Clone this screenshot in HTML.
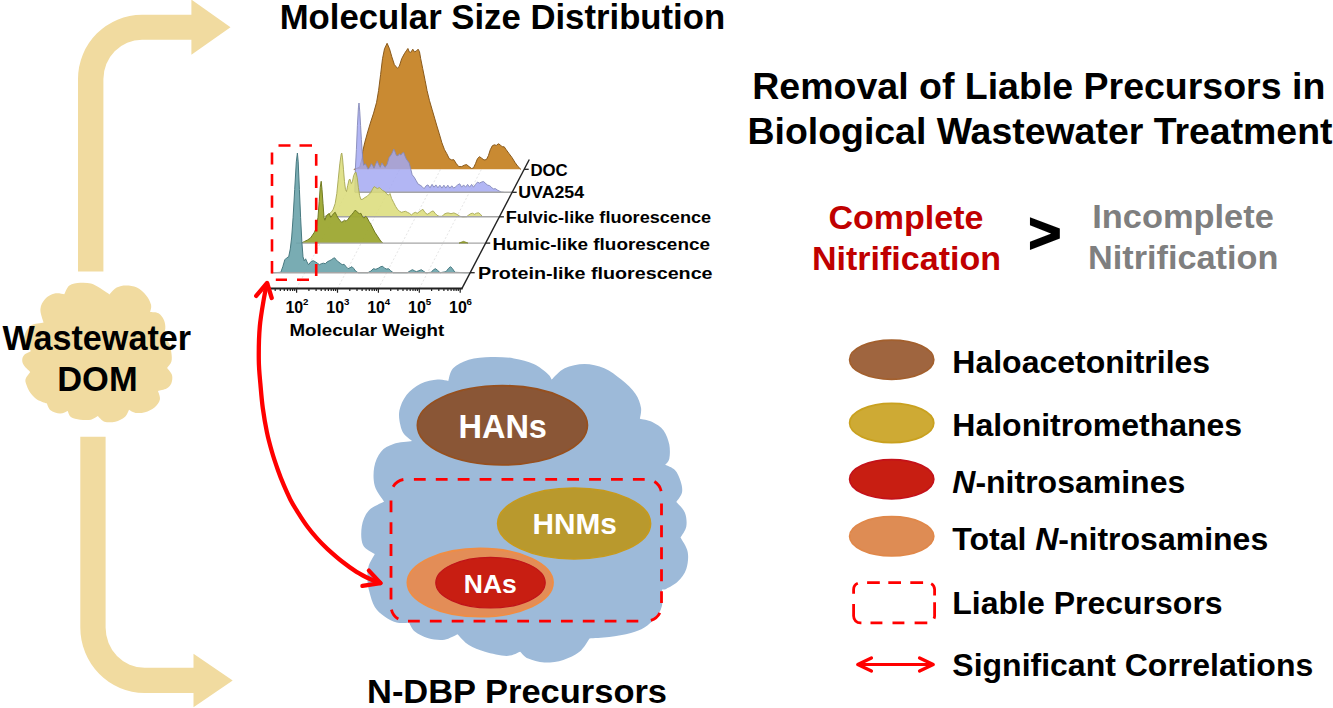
<!DOCTYPE html>
<html lang="en"><head><meta charset="utf-8"><title>Graphical abstract</title>
<style>
html,body{margin:0;padding:0;background:#fff;}
body{width:1333px;height:708px;overflow:hidden;}
svg{display:block;}
text{font-family:"Liberation Sans",sans-serif;font-weight:bold;fill:#000;}
.w{fill:#fff;}
</style></head><body>
<svg width="1333" height="708" viewBox="0 0 1333 708">
<rect width="1333" height="708" fill="#fff"/>
<g id="left">
<path d="M78.0,271.4 L78.0,79.0 A64.0,64.2 0 0 1 142.0,14.8 L191.4,14.8 L191.4,-0.40000000000000213 L230.5,27.2 L191.4,54.8 L191.4,39.8 L142.0,39.8 A38.599999999999994,39.2 0 0 0 103.4,79.0 L103.4,271.4Z" fill="#f1dba0"/>
<path d="M80.3,436.8 L80.3,627.5 A64.2,65.5 0 0 0 144.5,693.0 L193.5,693.0 L193.5,707.3 L232.7,680.5 L193.5,653.7 L193.5,667.7 L144.5,667.7 A38.900000000000006,40.200000000000045 0 0 1 105.6,627.5 L105.6,436.8Z" fill="#f1dba0"/>
<path d="M43.6,322.5 C43.0,320.3 40.1,313.1 40.4,309.2 C40.7,305.3 42.7,301.6 45.1,299.0 C47.5,296.4 51.4,294.4 54.6,293.6 C57.8,292.8 62.7,294.1 64.3,294.2 C65.2,292.8 66.8,287.4 69.4,285.5 C72.0,283.6 76.6,283.1 80.2,282.8 C83.8,282.5 87.8,282.7 91.0,283.5 C94.2,284.3 96.0,285.8 99.1,287.6 C102.2,289.4 107.8,293.3 109.5,294.5 C110.7,293.3 113.9,289.1 116.7,287.6 C119.5,286.1 122.7,285.5 126.1,285.5 C129.5,285.5 133.5,285.9 136.9,287.6 C140.3,289.3 144.0,292.8 146.4,295.7 C148.8,298.6 150.5,302.4 151.1,305.1 C151.7,307.8 150.3,310.8 150.1,311.9 C151.5,312.1 156.2,311.9 158.5,313.2 C160.8,314.5 162.8,317.4 163.9,320.0 C165.0,322.6 165.6,325.9 165.3,328.7 C165.0,331.5 162.5,335.3 161.9,336.7 C163.1,337.7 167.4,340.3 169.0,343.0 C170.6,345.7 171.0,349.9 171.4,353.0 C171.8,356.1 172.1,359.1 171.4,361.6 C170.7,364.1 167.8,367.0 167.1,368.1 C167.9,369.2 171.3,372.6 172.0,375.1 C172.7,377.6 172.3,380.9 171.4,383.2 C170.5,385.4 168.8,387.3 166.6,388.6 C164.4,389.9 159.4,390.5 158.0,390.9 C158.3,392.3 160.5,396.6 159.9,399.4 C159.3,402.2 157.0,405.4 154.5,407.5 C152.0,409.6 148.2,411.3 145.0,412.2 C141.8,413.1 138.3,413.3 135.6,412.9 C132.9,412.5 130.2,410.2 129.1,409.7 C128.4,410.9 127.1,415.0 124.8,417.0 C122.5,419.0 118.7,420.9 115.3,421.7 C111.9,422.5 107.4,422.6 104.5,421.7 C101.6,420.8 98.9,417.0 97.8,416.1 C96.7,416.7 93.9,419.1 91.0,419.7 C88.1,420.3 83.6,420.1 80.2,419.7 C76.8,419.2 72.9,418.5 70.8,417.0 C68.7,415.5 68.3,412.0 67.8,411.0 C66.5,411.4 62.9,413.7 60.0,413.6 C57.1,413.5 52.7,411.9 50.5,410.2 C48.3,408.5 47.4,404.5 46.7,403.3 C45.1,402.7 39.7,401.2 37.0,399.4 C34.3,397.6 32.0,394.9 30.3,392.7 C28.6,390.4 27.7,388.1 26.9,385.9 C26.1,383.6 24.9,381.5 25.5,379.2 C26.1,376.9 29.5,373.1 30.3,371.9 C29.3,370.9 25.6,367.6 24.2,365.7 C22.8,363.8 22.2,362.1 22.2,360.3 C22.2,358.5 22.7,356.4 24.2,354.9 C25.7,353.4 29.9,351.7 31.1,351.0 C30.0,349.7 25.5,345.8 24.5,343.0 C23.5,340.2 23.9,336.9 25.0,334.0 C26.1,331.1 27.9,327.4 31.0,325.5 C34.1,323.6 41.5,323.0 43.6,322.5Z" fill="#f1dba0"/>
<text x="96.8" y="349.5" font-size="34.2" text-anchor="middle" textLength="188.5" lengthAdjust="spacingAndGlyphs">Wastewater</text>
<text x="97.4" y="390.5" font-size="34.2" text-anchor="middle" textLength="80.4" lengthAdjust="spacingAndGlyphs">DOM</text>
</g>
<g id="chart">
<path d="M296.6,288.5 L363.6,160 M337.5,288.5 L404.5,160 M378.4,288.5 L445.4,160 M419.3,288.5 L486.3,160" fill="none" stroke="#e6e6e6" stroke-width="1" stroke-dasharray="2 2"/>
<path d="M353.8,169.5 L359.8,167.1 L362.2,157.7 L362.7,151.7 L364.7,142.8 L367.7,131.9 L370.7,122.0 L373.6,113.1 L376.6,102.3 L378.6,90.4 L380.6,74.6 L382.5,58.7 L384.5,48.8 L387.1,43.3 L389.5,48.8 L391.8,56.8 L394.4,64.7 L397.4,68.2 L399.3,66.3 L401.7,58.7 L404.3,53.8 L406.3,50.8 L407.9,48.5 L409.2,51.8 L410.8,52.4 L412.8,49.2 L414.4,51.8 L416.2,51.2 L418.1,49.2 L419.5,51.8 L420.7,58.7 L422.7,68.6 L425.1,80.5 L427.0,90.4 L429.4,100.3 L432.0,109.2 L434.6,118.1 L436.9,126.0 L439.3,133.9 L441.9,142.8 L444.5,149.7 L446.8,153.7 L449.2,158.6 L451.8,160.0 L453.7,159.6 L456.3,163.6 L458.7,166.6 L461.7,166.6 L464.2,165.2 L466.6,164.6 L469.0,166.6 L471.6,168.5 L473.5,167.9 L475.5,163.6 L477.5,158.6 L479.5,156.7 L481.4,158.0 L484.0,160.0 L486.4,159.6 L488.4,155.7 L490.3,149.7 L492.3,145.8 L494.3,144.8 L496.3,145.4 L498.3,143.8 L500.2,144.8 L502.2,146.8 L504.2,146.8 L506.2,149.7 L509.1,153.7 L512.1,157.7 L515.1,162.6 L518.0,166.6 L521.0,169.5 L521.0,169.3 L353.8,169.3Z" fill="#c98a32" fill-opacity="1"/><path d="M353.8,169.5 L359.8,167.1 L362.2,157.7 L362.7,151.7 L364.7,142.8 L367.7,131.9 L370.7,122.0 L373.6,113.1 L376.6,102.3 L378.6,90.4 L380.6,74.6 L382.5,58.7 L384.5,48.8 L387.1,43.3 L389.5,48.8 L391.8,56.8 L394.4,64.7 L397.4,68.2 L399.3,66.3 L401.7,58.7 L404.3,53.8 L406.3,50.8 L407.9,48.5 L409.2,51.8 L410.8,52.4 L412.8,49.2 L414.4,51.8 L416.2,51.2 L418.1,49.2 L419.5,51.8 L420.7,58.7 L422.7,68.6 L425.1,80.5 L427.0,90.4 L429.4,100.3 L432.0,109.2 L434.6,118.1 L436.9,126.0 L439.3,133.9 L441.9,142.8 L444.5,149.7 L446.8,153.7 L449.2,158.6 L451.8,160.0 L453.7,159.6 L456.3,163.6 L458.7,166.6 L461.7,166.6 L464.2,165.2 L466.6,164.6 L469.0,166.6 L471.6,168.5 L473.5,167.9 L475.5,163.6 L477.5,158.6 L479.5,156.7 L481.4,158.0 L484.0,160.0 L486.4,159.6 L488.4,155.7 L490.3,149.7 L492.3,145.8 L494.3,144.8 L496.3,145.4 L498.3,143.8 L500.2,144.8 L502.2,146.8 L504.2,146.8 L506.2,149.7 L509.1,153.7 L512.1,157.7 L515.1,162.6 L518.0,166.6 L521.0,169.5" fill="none" stroke="#8a5a1c" stroke-width="1" stroke-linejoin="round"/>
<path d="M354.8,192.4 L355.4,168.2 L356.4,149.5 L357.4,125.7 L358.4,107.9 L359.0,103.0 L359.8,111.9 L360.6,125.7 L361.4,139.6 L362.2,151.4 L362.9,160.3 L363.7,165.3 L365.3,163.7 L366.7,166.3 L368.1,169.2 L369.7,167.3 L371.3,163.7 L372.6,165.3 L374.0,168.2 L375.6,164.3 L377.2,160.9 L378.6,164.3 L380.2,167.3 L381.9,162.9 L383.5,165.3 L385.1,167.3 L387.1,164.3 L389.1,157.4 L391.0,155.0 L392.4,152.4 L393.8,149.1 L395.0,151.8 L396.4,155.4 L398.0,155.8 L399.3,153.8 L400.9,155.0 L402.3,153.0 L403.7,152.4 L404.9,155.8 L406.3,159.0 L407.7,160.9 L409.2,162.9 L410.8,169.2 L412.2,174.8 L414.2,177.2 L416.2,180.7 L418.1,184.1 L420.1,185.1 L422.1,186.6 L424.1,188.7 L426.1,185.8 L428.0,184.9 L430.0,187.8 L432.0,184.4 L434.0,187.2 L435.9,184.9 L437.9,187.8 L439.9,185.2 L441.9,188.1 L443.9,185.2 L445.8,188.1 L447.8,185.2 L449.8,188.1 L451.8,185.8 L453.7,188.1 L455.7,186.7 L457.7,184.9 L459.7,183.8 L461.7,187.2 L463.6,184.9 L465.6,187.2 L467.6,184.4 L469.6,187.2 L471.6,184.4 L473.5,187.2 L475.5,184.4 L477.5,182.1 L479.5,183.1 L481.4,182.1 L483.4,181.5 L485.4,183.1 L487.4,185.1 L489.4,185.5 L491.3,187.0 L493.3,189.0 L495.3,188.6 L497.3,190.0 L499.2,191.0 L501.2,192.0 L504.2,192.4 L504.2,192.3 L354.8,192.3Z" fill="#a3a8f2" fill-opacity="0.84"/><path d="M354.8,192.4 L355.4,168.2 L356.4,149.5 L357.4,125.7 L358.4,107.9 L359.0,103.0 L359.8,111.9 L360.6,125.7 L361.4,139.6 L362.2,151.4 L362.9,160.3 L363.7,165.3 L365.3,163.7 L366.7,166.3 L368.1,169.2 L369.7,167.3 L371.3,163.7 L372.6,165.3 L374.0,168.2 L375.6,164.3 L377.2,160.9 L378.6,164.3 L380.2,167.3 L381.9,162.9 L383.5,165.3 L385.1,167.3 L387.1,164.3 L389.1,157.4 L391.0,155.0 L392.4,152.4 L393.8,149.1 L395.0,151.8 L396.4,155.4 L398.0,155.8 L399.3,153.8 L400.9,155.0 L402.3,153.0 L403.7,152.4 L404.9,155.8 L406.3,159.0 L407.7,160.9 L409.2,162.9 L410.8,169.2 L412.2,174.8 L414.2,177.2 L416.2,180.7 L418.1,184.1 L420.1,185.1 L422.1,186.6 L424.1,188.7 L426.1,185.8 L428.0,184.9 L430.0,187.8 L432.0,184.4 L434.0,187.2 L435.9,184.9 L437.9,187.8 L439.9,185.2 L441.9,188.1 L443.9,185.2 L445.8,188.1 L447.8,185.2 L449.8,188.1 L451.8,185.8 L453.7,188.1 L455.7,186.7 L457.7,184.9 L459.7,183.8 L461.7,187.2 L463.6,184.9 L465.6,187.2 L467.6,184.4 L469.6,187.2 L471.6,184.4 L473.5,187.2 L475.5,184.4 L477.5,182.1 L479.5,183.1 L481.4,182.1 L483.4,181.5 L485.4,183.1 L487.4,185.1 L489.4,185.5 L491.3,187.0 L493.3,189.0 L495.3,188.6 L497.3,190.0 L499.2,191.0 L501.2,192.0 L504.2,192.4" fill="none" stroke="#8589b8" stroke-width="0.9" stroke-linejoin="round"/>
<path d="M355.0,192.3 L512.2,192.3" stroke="#a6a6a6" stroke-width="1.4" fill="none"/>
<path d="M324.3,216.9 L328.3,214.3 L331.3,212.3 L333.2,209.3 L335.2,203.4 L336.8,193.5 L338.2,179.7 L339.8,163.8 L341.2,154.0 L341.8,153.0 L342.5,157.9 L343.5,169.8 L344.5,181.7 L345.5,189.6 L346.5,191.5 L347.7,185.6 L349.1,179.7 L350.1,179.3 L351.3,183.6 L352.4,181.7 L353.6,175.7 L355.0,172.7 L356.0,172.2 L357.2,177.7 L358.4,187.6 L359.6,195.5 L360.9,199.5 L362.9,199.1 L364.9,197.5 L366.9,196.5 L368.9,194.5 L370.8,192.5 L372.8,188.6 L374.2,186.6 L375.8,187.6 L377.4,188.6 L379.3,187.6 L380.7,188.6 L382.7,190.6 L384.7,191.5 L386.7,193.9 L388.6,195.1 L390.0,193.5 L391.6,198.5 L393.6,202.4 L395.6,206.4 L397.5,209.3 L399.5,211.3 L401.5,212.3 L403.5,211.7 L405.5,211.3 L407.4,212.3 L409.4,213.3 L411.4,214.9 L413.4,213.3 L415.3,212.3 L417.3,213.3 L419.3,211.7 L421.3,210.3 L422.9,209.3 L424.8,212.3 L427.2,214.3 L429.2,213.3 L431.2,211.7 L433.2,210.9 L435.1,213.3 L437.1,215.3 L439.1,216.3 L442.1,216.3 L444.0,214.3 L446.0,213.3 L448.0,212.9 L451.0,213.7 L453.9,212.9 L456.9,214.3 L459.9,216.3 L462.8,216.9 L466.6,216.7 L468.6,215.1 L470.6,213.7 L472.5,213.2 L474.5,214.3 L476.5,213.2 L478.5,212.8 L480.5,214.3 L482.4,216.7 L482.4,216.8 L324.3,216.8Z" fill="#dbdc78" fill-opacity="0.85"/><path d="M324.3,216.9 L328.3,214.3 L331.3,212.3 L333.2,209.3 L335.2,203.4 L336.8,193.5 L338.2,179.7 L339.8,163.8 L341.2,154.0 L341.8,153.0 L342.5,157.9 L343.5,169.8 L344.5,181.7 L345.5,189.6 L346.5,191.5 L347.7,185.6 L349.1,179.7 L350.1,179.3 L351.3,183.6 L352.4,181.7 L353.6,175.7 L355.0,172.7 L356.0,172.2 L357.2,177.7 L358.4,187.6 L359.6,195.5 L360.9,199.5 L362.9,199.1 L364.9,197.5 L366.9,196.5 L368.9,194.5 L370.8,192.5 L372.8,188.6 L374.2,186.6 L375.8,187.6 L377.4,188.6 L379.3,187.6 L380.7,188.6 L382.7,190.6 L384.7,191.5 L386.7,193.9 L388.6,195.1 L390.0,193.5 L391.6,198.5 L393.6,202.4 L395.6,206.4 L397.5,209.3 L399.5,211.3 L401.5,212.3 L403.5,211.7 L405.5,211.3 L407.4,212.3 L409.4,213.3 L411.4,214.9 L413.4,213.3 L415.3,212.3 L417.3,213.3 L419.3,211.7 L421.3,210.3 L422.9,209.3 L424.8,212.3 L427.2,214.3 L429.2,213.3 L431.2,211.7 L433.2,210.9 L435.1,213.3 L437.1,215.3 L439.1,216.3 L442.1,216.3 L444.0,214.3 L446.0,213.3 L448.0,212.9 L451.0,213.7 L453.9,212.9 L456.9,214.3 L459.9,216.3 L462.8,216.9 L466.6,216.7 L468.6,215.1 L470.6,213.7 L472.5,213.2 L474.5,214.3 L476.5,213.2 L478.5,212.8 L480.5,214.3 L482.4,216.7" fill="none" stroke="#a6a754" stroke-width="0.9" stroke-linejoin="round"/>
<path d="M325.0,216.8 L499.4,216.8" stroke="#a6a6a6" stroke-width="1.4" fill="none"/>
<path d="M301.6,243.0 L304.6,241.4 L307.5,240.0 L310.5,238.0 L312.5,235.1 L314.5,232.1 L316.4,227.2 L318.0,217.3 L319.2,201.4 L320.2,187.6 L321.2,181.3 L322.0,189.6 L323.0,203.4 L324.0,217.3 L324.9,220.2 L326.3,216.3 L327.9,214.3 L329.3,213.7 L330.7,217.3 L332.3,215.3 L333.8,213.3 L335.2,212.3 L336.6,215.3 L338.2,218.2 L339.8,220.2 L341.4,222.2 L342.9,221.6 L344.5,220.2 L346.1,221.2 L348.1,219.2 L350.1,216.3 L352.0,214.3 L353.6,212.3 L355.0,210.3 L356.4,210.9 L358.0,212.9 L359.6,213.7 L360.9,213.3 L362.3,216.3 L363.9,218.2 L365.5,216.3 L366.9,217.3 L368.9,221.2 L370.8,224.2 L372.8,228.1 L374.8,232.1 L376.8,235.1 L378.7,238.0 L380.7,241.0 L382.7,243.0 L382.7,243.1 L301.6,243.1Z" fill="#9da832" fill-opacity="0.95"/><path d="M301.6,243.0 L304.6,241.4 L307.5,240.0 L310.5,238.0 L312.5,235.1 L314.5,232.1 L316.4,227.2 L318.0,217.3 L319.2,201.4 L320.2,187.6 L321.2,181.3 L322.0,189.6 L323.0,203.4 L324.0,217.3 L324.9,220.2 L326.3,216.3 L327.9,214.3 L329.3,213.7 L330.7,217.3 L332.3,215.3 L333.8,213.3 L335.2,212.3 L336.6,215.3 L338.2,218.2 L339.8,220.2 L341.4,222.2 L342.9,221.6 L344.5,220.2 L346.1,221.2 L348.1,219.2 L350.1,216.3 L352.0,214.3 L353.6,212.3 L355.0,210.3 L356.4,210.9 L358.0,212.9 L359.6,213.7 L360.9,213.3 L362.3,216.3 L363.9,218.2 L365.5,216.3 L366.9,217.3 L368.9,221.2 L370.8,224.2 L372.8,228.1 L374.8,232.1 L376.8,235.1 L378.7,238.0 L380.7,241.0 L382.7,243.0" fill="none" stroke="#717b22" stroke-width="1" stroke-linejoin="round"/>
<path d="M296.0,243.1 L485.7,243.1" stroke="#a6a6a6" stroke-width="1.4" fill="none"/>
<path d="M459,243.1 L461.5,242 L463.5,241.3 L465.5,242 L468,243.1Z" fill="#9da832" stroke="#717b22" stroke-width="0.6"/>
<path d="M273.9,272.7 L280.8,272.3 L282.8,266.7 L284.8,259.8 L286.8,257.8 L288.7,256.8 L290.3,248.9 L291.7,237.0 L293.1,217.3 L294.7,189.6 L296.3,161.9 L297.4,153.0 L298.2,161.9 L299.4,189.6 L300.6,217.3 L301.8,241.0 L303.0,256.8 L304.2,260.8 L305.6,258.8 L306.9,261.8 L308.5,264.7 L310.1,262.8 L311.5,261.2 L313.5,260.8 L315.4,261.8 L317.4,263.2 L319.4,264.7 L321.4,263.7 L323.4,263.2 L325.3,263.7 L327.3,261.8 L329.3,260.8 L331.3,259.8 L333.2,258.4 L334.6,257.8 L336.2,259.8 L338.2,261.8 L340.2,263.2 L342.2,264.7 L344.1,264.3 L346.1,266.7 L348.1,268.7 L350.1,267.7 L352.0,266.7 L353.6,268.3 L355.6,271.1 L358.0,272.7 L367.9,272.7 L370.8,271.1 L373.4,268.7 L375.8,269.3 L378.2,268.3 L380.7,266.7 L382.7,266.3 L384.7,268.3 L386.7,269.1 L388.6,268.7 L390.6,270.7 L393.2,272.7 L407.4,272.7 L410.4,270.7 L412.4,269.7 L414.4,270.7 L416.3,271.7 L418.9,270.7 L421.3,269.7 L423.3,271.1 L425.6,272.7 L431.2,272.3 L433.5,269.7 L435.5,268.7 L437.5,270.3 L440.1,272.7 L446.0,271.7 L448.6,268.3 L450.6,266.7 L452.5,268.7 L454.9,272.3 L465.0,272.7 L470.1,272.7 L470.1,272.7 L273.9,272.7Z" fill="#6aa3ab" fill-opacity="0.9"/><path d="M273.9,272.7 L280.8,272.3 L282.8,266.7 L284.8,259.8 L286.8,257.8 L288.7,256.8 L290.3,248.9 L291.7,237.0 L293.1,217.3 L294.7,189.6 L296.3,161.9 L297.4,153.0 L298.2,161.9 L299.4,189.6 L300.6,217.3 L301.8,241.0 L303.0,256.8 L304.2,260.8 L305.6,258.8 L306.9,261.8 L308.5,264.7 L310.1,262.8 L311.5,261.2 L313.5,260.8 L315.4,261.8 L317.4,263.2 L319.4,264.7 L321.4,263.7 L323.4,263.2 L325.3,263.7 L327.3,261.8 L329.3,260.8 L331.3,259.8 L333.2,258.4 L334.6,257.8 L336.2,259.8 L338.2,261.8 L340.2,263.2 L342.2,264.7 L344.1,264.3 L346.1,266.7 L348.1,268.7 L350.1,267.7 L352.0,266.7 L353.6,268.3 L355.6,271.1 L358.0,272.7 L367.9,272.7 L370.8,271.1 L373.4,268.7 L375.8,269.3 L378.2,268.3 L380.7,266.7 L382.7,266.3 L384.7,268.3 L386.7,269.1 L388.6,268.7 L390.6,270.7 L393.2,272.7 L407.4,272.7 L410.4,270.7 L412.4,269.7 L414.4,270.7 L416.3,271.7 L418.9,270.7 L421.3,269.7 L423.3,271.1 L425.6,272.7 L431.2,272.3 L433.5,269.7 L435.5,268.7 L437.5,270.3 L440.1,272.7 L446.0,271.7 L448.6,268.3 L450.6,266.7 L452.5,268.7 L454.9,272.3 L465.0,272.7 L470.1,272.7" fill="none" stroke="#477980" stroke-width="1" stroke-linejoin="round"/>
<path d="M271.5,272.7 L470.2,272.7" stroke="#a6a6a6" stroke-width="1.4" fill="none"/>
<path d="M270,288.5 L462.4,288.5" fill="none" stroke="#222" stroke-width="1.9"/>
<path d="M461.6,289.1 L529.3,159.5" fill="none" stroke="#222" stroke-width="1.4"/>
<path d="M296.6,288.5 v4.2 M308.9,288.5 v2.4 M316.1,288.5 v2.4 M321.2,288.5 v2.4 M325.2,288.5 v2.4 M328.4,288.5 v2.4 M331.2,288.5 v2.4 M333.5,288.5 v2.4 M335.6,288.5 v2.4 M337.5,288.5 v4.2 M349.8,288.5 v2.4 M357.0,288.5 v2.4 M362.1,288.5 v2.4 M366.1,288.5 v2.4 M369.3,288.5 v2.4 M372.1,288.5 v2.4 M374.4,288.5 v2.4 M376.5,288.5 v2.4 M378.4,288.5 v4.2 M390.7,288.5 v2.4 M397.9,288.5 v2.4 M403.0,288.5 v2.4 M407.0,288.5 v2.4 M410.2,288.5 v2.4 M413.0,288.5 v2.4 M415.3,288.5 v2.4 M417.4,288.5 v2.4 M419.3,288.5 v4.2 M431.6,288.5 v2.4 M438.8,288.5 v2.4 M443.9,288.5 v2.4 M447.9,288.5 v2.4 M451.1,288.5 v2.4 M453.9,288.5 v2.4 M456.2,288.5 v2.4 M458.3,288.5 v2.4 M460.2,288.5 v4.2 M275.2,288.5 v2.4 M280.3,288.5 v2.4 M284.3,288.5 v2.4 M287.5,288.5 v2.4 M290.3,288.5 v2.4 M292.6,288.5 v2.4 M294.7,288.5 v2.4 " stroke="#222" stroke-width="1.2" fill="none"/>
<path d="M524.2,169.3 L528.7,169.3" stroke="#222" stroke-width="1.3"/><text x="530.4" y="175.7" font-size="16.2" textLength="37.3" lengthAdjust="spacingAndGlyphs">DOC</text>
<path d="M512.2,192.3 L516.7,192.3" stroke="#222" stroke-width="1.3"/><text x="518.3" y="198.4" font-size="16.4" textLength="65.8" lengthAdjust="spacingAndGlyphs">UVA254</text>
<path d="M499.4,216.8 L503.9,216.8" stroke="#222" stroke-width="1.3"/><text x="505.7" y="223.2" font-size="16.7" textLength="205.5" lengthAdjust="spacingAndGlyphs">Fulvic-like fluorescence</text>
<path d="M485.7,243.1 L490.2,243.1" stroke="#222" stroke-width="1.3"/><text x="492.4" y="249.8" font-size="16.8" textLength="217.6" lengthAdjust="spacingAndGlyphs">Humic-like fluorescence</text>
<path d="M470.2,272.7 L474.7,272.7" stroke="#222" stroke-width="1.3"/><text x="478" y="278.9" font-size="17.2" textLength="234.6" lengthAdjust="spacingAndGlyphs">Protein-like fluorescence</text>
<text x="285.4" y="313" font-size="16">10</text><text x="303.0" y="304.9" font-size="9.7">2</text><text x="326.3" y="313" font-size="16">10</text><text x="343.9" y="304.9" font-size="9.7">3</text><text x="367.2" y="313" font-size="16">10</text><text x="384.8" y="304.9" font-size="9.7">4</text><text x="408.1" y="313" font-size="16">10</text><text x="425.7" y="304.9" font-size="9.7">5</text><text x="449.0" y="313" font-size="16">10</text><text x="466.6" y="304.9" font-size="9.7">6</text>
<text x="366.9" y="335.6" font-size="17.3" text-anchor="middle" textLength="154.8" lengthAdjust="spacingAndGlyphs">Molecular Weight</text>
<path d="M278.5,145.5 H290.5 M299.5,145.5 H312 M275.8,279.8 H287 M297,279.8 H309 M272,152.4 V164.5 M272,174 V186 M272,195.5 V207.8 M272,217.3 V229.4 M272,239.2 V251.4 M272,261 V273.5 M316.2,153.9 V165.8 M316.2,175.8 V187.9 M316.2,197.8 V210 M316.2,219.7 V231.6 M316.2,241.7 V253.7 M316.2,264 V276" fill="none" stroke="#ff0000" stroke-width="2.6"/>
<text x="502.4" y="28.5" font-size="34.3" text-anchor="middle" textLength="445.5" lengthAdjust="spacingAndGlyphs">Molecular Size Distribution</text>
<text x="517" y="703.3" font-size="34" text-anchor="middle" textLength="300" lengthAdjust="spacingAndGlyphs">N-DBP Precursors</text>
</g>
<g id="blue">
<path d="M412.1,441.1 C410.7,439.9 406.0,436.7 404.0,434.0 C402.0,431.3 401.1,428.7 400.3,424.8 C399.5,420.9 398.4,415.6 399.4,410.6 C400.4,405.7 403.0,399.6 406.5,395.1 C410.0,390.6 415.4,386.4 420.6,383.8 C425.8,381.2 433.0,380.1 437.6,379.6 C442.2,379.1 446.5,380.7 448.3,380.9 C449.1,378.8 449.7,371.8 453.1,368.3 C456.5,364.8 462.3,361.7 468.7,359.8 C475.1,357.9 483.8,357.2 491.3,357.0 C498.8,356.8 506.8,357.2 513.9,358.4 C521.0,359.6 528.1,361.4 533.7,364.0 C539.4,366.6 544.8,371.3 547.8,373.9 C550.8,376.5 551.1,378.6 551.7,379.6 C553.9,377.7 559.2,370.9 564.7,368.3 C570.2,365.7 577.9,364.0 584.5,364.0 C591.1,364.0 598.2,365.7 604.3,368.3 C610.4,370.9 616.1,375.4 621.3,379.6 C626.5,383.8 632.1,389.0 635.4,393.7 C638.7,398.4 640.3,403.6 641.0,407.8 C641.7,412.0 640.0,416.9 639.9,418.7 C641.9,419.2 648.3,419.9 652.3,421.9 C656.3,423.9 660.8,426.6 663.6,430.4 C666.4,434.2 668.3,439.8 669.3,444.5 C670.2,449.2 670.0,455.3 669.3,458.7 C668.6,462.1 665.8,463.8 665.1,464.8 C666.7,465.7 672.3,467.3 674.9,470.0 C677.5,472.7 679.4,477.5 680.6,481.3 C681.8,485.1 682.7,489.1 682.0,492.6 C681.3,496.1 677.3,500.5 676.3,502.1 C677.7,503.8 683.1,508.3 684.8,512.4 C686.5,516.5 687.0,522.3 686.3,526.5 C685.6,530.7 681.5,535.7 680.5,537.6 C681.7,540.0 686.7,546.7 687.7,551.9 C688.7,557.1 687.9,563.9 686.3,568.9 C684.6,573.9 681.1,578.3 677.8,581.6 C674.5,584.9 669.1,587.4 666.5,588.7 C663.9,590.0 662.7,589.3 662.0,589.5 C662.0,592.2 663.0,601.1 661.9,605.9 C660.8,610.7 658.1,614.5 655.2,618.1 C652.3,621.7 648.5,625.0 644.4,627.5 C640.3,630.0 636.8,631.3 630.9,632.9 C625.0,634.5 616.1,636.1 609.2,637.0 C602.3,637.9 592.9,638.1 589.6,638.4 C587.9,640.6 583.9,648.2 579.5,651.8 C575.1,655.4 569.1,658.1 563.3,659.9 C557.4,661.7 550.2,662.8 544.4,662.6 C538.5,662.4 532.2,660.4 528.2,658.6 C524.2,656.8 521.5,652.9 520.2,651.7 C517.9,652.4 512.5,655.9 506.6,655.9 C500.7,655.9 491.3,653.6 485.0,651.8 C478.7,650.0 473.4,648.0 468.8,645.1 C464.2,642.2 459.3,636.1 457.5,634.3 C455.3,635.2 449.4,639.0 444.5,639.7 C439.6,640.4 433.2,639.6 428.3,638.3 C423.4,636.9 418.0,634.2 414.8,631.6 C411.6,629.0 410.1,624.3 409.2,622.8 C407.1,622.7 400.8,623.6 396.6,622.5 C392.4,621.4 387.8,618.9 384.2,616.3 C380.6,613.7 377.3,611.1 374.8,607.0 C372.3,602.9 370.5,596.0 369.3,591.5 C368.1,587.0 367.6,584.2 367.5,580.0 C367.4,575.8 367.3,570.8 368.5,566.5 C369.7,562.2 373.8,556.2 374.8,554.1 C372.9,552.6 365.2,549.5 363.0,544.9 C360.8,540.3 360.9,532.0 361.8,526.3 C362.7,520.6 364.9,514.8 368.6,510.7 C372.3,506.6 381.5,503.1 384.1,501.5 C382.5,498.9 376.4,491.6 374.8,485.9 C373.2,480.2 373.2,473.0 374.2,467.3 C375.2,461.6 377.8,455.6 381.0,451.7 C384.2,447.8 388.3,445.8 393.5,444.0 C398.7,442.2 409.0,441.6 412.1,441.1Z" fill="#9dbad9"/>
<ellipse cx="502.4" cy="425.3" rx="85" ry="39.6" fill="#8a5636" stroke="#96501f" stroke-width="1.8"/>
<text class="w" x="502.7" y="437.5" font-size="32.5" text-anchor="middle" style="fill:#fff">HANs</text>
<ellipse cx="574.1" cy="523.5" rx="76.5" ry="35.5" fill="#b9992d" stroke="#c79a1c" stroke-width="1.6"/>
<text class="w" x="574.6" y="533.7" font-size="29.8" text-anchor="middle" style="fill:#fff">HNMs</text>
<ellipse cx="480.2" cy="582.6" rx="72.8" ry="34.1" fill="#e38d57" stroke="#ef8d45" stroke-width="1.8"/>
<ellipse cx="490.5" cy="582.7" rx="54.7" ry="25.3" fill="#c81e12" stroke="#c0141a" stroke-width="1.2"/>
<text class="w" x="490.3" y="593" font-size="26.5" text-anchor="middle" style="fill:#fff">NAs</text>
<g fill="none" stroke="#ff0000" stroke-width="2.8"><path d="M413.9,479.3 H646.5 A15,15 0 0 1 661.5,494.3 V500" stroke-dasharray="11.8 10.1"/><path d="M661.5,503.4 V606.1 A15,15 0 0 1 646.5,621.1 H642" stroke-dasharray="11.9 10.05"/><path d="M638.3,621.1 H406 A15,15 0 0 1 391,606.1 V497" stroke-dasharray="11.8 10.05"/><path d="M393.1,486.7 A15,15 0 0 1 403.4,479.5"/></g>
</g>
<g id="redarrow" fill="none" stroke="#ff0000" stroke-linecap="round" stroke-linejoin="round">
<path d="M267.0,283.6 C266.5,286.0 265.2,290.9 264.0,298.0 C262.8,305.1 260.7,316.2 259.8,326.5 C258.9,336.8 258.7,350.4 258.8,360.0 C258.9,369.6 259.7,376.0 260.4,384.0 C261.1,392.0 261.7,400.1 262.8,408.1 C263.9,416.1 265.4,424.8 266.9,432.1 C268.4,439.4 270.2,445.7 272.0,452.0 C273.8,458.3 276.0,464.6 277.9,470.0 C279.8,475.4 281.5,479.8 283.6,484.7 C285.7,489.6 287.9,494.7 290.3,499.4 C292.7,504.1 295.4,508.4 298.2,512.9 C301.0,517.4 304.1,522.2 307.3,526.5 C310.5,530.8 314.1,535.1 317.5,538.9 C320.9,542.7 323.5,545.3 327.6,549.1 C331.8,552.9 337.6,558.0 342.4,561.8 C347.2,565.6 351.8,568.9 356.5,571.8 C361.2,574.7 366.7,577.4 370.6,579.3 C374.6,581.2 378.6,582.4 380.2,583.0" stroke-width="4.3"/>
<path d="M256.2,295.9 L267.1,283 L271.7,298" stroke-width="4.3"/>
<path d="M368.9,570.6 L380.6,583.2 L362.4,585.9" stroke-width="4.3"/>
</g>
<g id="right">
<text x="1038.8" y="98.7" font-size="37" text-anchor="middle" textLength="573" lengthAdjust="spacingAndGlyphs">Removal of Liable Precursors in</text>
<text x="1040" y="143.6" font-size="37" text-anchor="middle" textLength="585" lengthAdjust="spacingAndGlyphs">Biological Wastewater Treatment</text>
<text x="906" y="228.8" font-size="34" text-anchor="middle" style="fill:#c00000">Complete</text>
<text x="906.5" y="270" font-size="34" text-anchor="middle" style="fill:#c00000">Nitrification</text>
<text x="1183" y="228.3" font-size="34" text-anchor="middle" textLength="181.6" lengthAdjust="spacingAndGlyphs" style="fill:#7f7f7f">Incomplete</text>
<text x="1183.2" y="269.4" font-size="34" text-anchor="middle" textLength="190.3" lengthAdjust="spacingAndGlyphs" style="fill:#7f7f7f">Nitrification</text>
<text x="1044.8" y="252.1" font-size="56" text-anchor="middle" stroke="#000" stroke-width="1.8" stroke-linejoin="miter">&gt;</text>
<ellipse cx="891.7" cy="359.7" rx="42.1" ry="19.6" fill="#9f653f" stroke="#a3602e" stroke-width="1.7"/>
<ellipse cx="891.7" cy="423" rx="42.1" ry="19.6" fill="#ceaa34" stroke="#c9a11f" stroke-width="1.7"/>
<ellipse cx="891.7" cy="479.2" rx="42.1" ry="19.6" fill="#c81e12" stroke="#c4121a" stroke-width="1.7"/>
<ellipse cx="891.7" cy="536.3" rx="42.1" ry="19.6" fill="#de8c54" stroke="#e0884a" stroke-width="1.7"/>
<text x="952.3" y="373.2" font-size="32">Haloacetonitriles</text>
<text x="952.3" y="435.8" font-size="32">Halonitromethanes</text>
<text x="952.3" y="492.8" font-size="32"><tspan font-style="italic">N</tspan>-nitrosamines</text>
<text x="952.3" y="549.6" font-size="32">Total <tspan font-style="italic">N</tspan>-nitrosamines</text>
<text x="952.3" y="614.2" font-size="32">Liable Precursors</text>
<text x="952.3" y="676.3" font-size="32">Significant Correlations</text>
<path d="M867.1,582.7 H879.8 M888.3,582.7 H901 M910.3,582.7 H923.1 M931.2,583.6 A6.8,6.8 0 0 1 934.6,589.5 V595.4 M934.6,602.2 V616.1 A6.8,6.8 0 0 1 934,618.7 M927.3,622.9 H914.6 M904.4,622.9 H892.5 M882.4,622.9 H870.5 M861.4,622.9 H860.4 A6.8,6.8 0 0 1 853.6,616.1 V603.9 M853.6,593.7 V589.5 A6.8,6.8 0 0 1 857.8,583.2" fill="none" stroke="#ff0000" stroke-width="2.8"/>
<g fill="none" stroke="#ff0000" stroke-linecap="round" stroke-linejoin="round">
<path d="M858.5,664.5 L932.5,664.5" stroke-width="3.2"/>
<path d="M871.4,658 L857.8,664.5 L871.4,671 M919.6,658 L933.2,664.5 L919.6,671" stroke-width="3.4"/>
</g>
</g>
</svg></body></html>
